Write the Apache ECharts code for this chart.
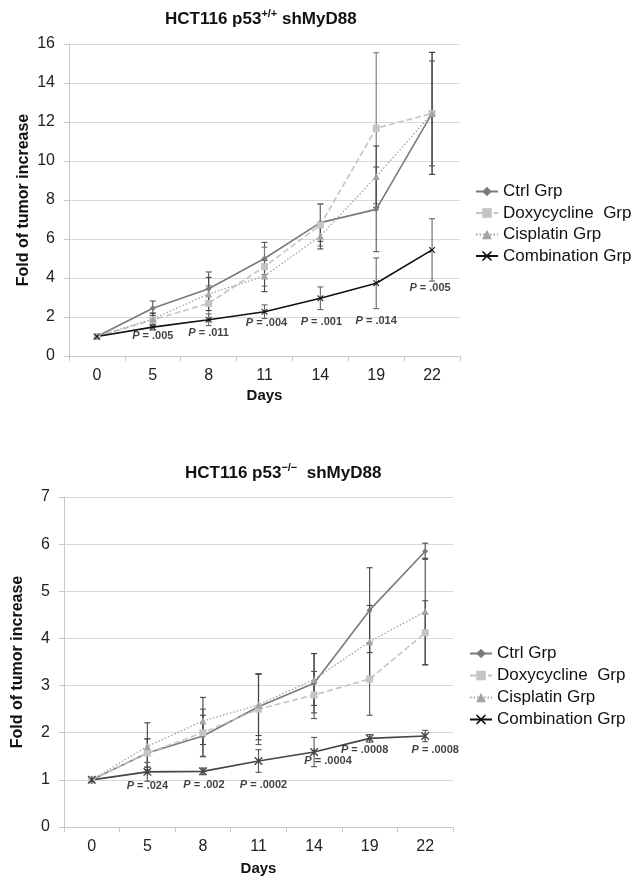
<!DOCTYPE html>
<html><head><meta charset="utf-8">
<script src="https://cdn.jsdelivr.net/npm/echarts@6/dist/echarts.min.js"></script>
<style>html,body{margin:0;padding:0;background:#fff}#c{width:634px;height:878px}</style>
</head><body><div id="c"></div>
<script>
// ---------- data ----------
const days = ['0', '5', '8', '11', '14', '19', '22'];
const seriesNames = ['Ctrl Grp', 'Doxycycline  Grp', 'Cisplatin Grp', 'Combination Grp'];

// top chart: HCT116 p53+/+ shMyD88
const topCtrl = [1, 2.45, 3.45, 5.0, 6.84, 7.52, 12.44];
const topDoxy = [1, 1.85, 2.7, 4.58, 6.72, 11.68, 12.44];
const topCis  = [1, 1.9, 3.18, 4.1, 6.15, 9.2, 12.44];
const topComb = [1, 1.48, 1.86, 2.27, 2.96, 3.73, 5.44];
const topCtrlErr = [0, 0.37, 0.86, 0.83, 0.96, 2.17, 2.69];
const topDoxyErr = [0, 0.35, 0.9, 1.0, 1.08, 3.87, 3.13];
const topCisErr  = [0, 0.3, 0.85, 0.8, 0.66, 1.57, 3.13];
const topCombErr = [0, 0.15, 0.3, 0.35, 0.58, 1.3, 1.6];
const topP = ['.005', '.011', '.004', '.001', '.014', '.005'];
const topPY = [1.03, 1.18, 1.69, 1.74, 1.80, 3.49];

// bottom chart: HCT116 p53-/- shMyD88
const botCtrl = [1, 1.57, 1.93, 2.55, 3.05, 4.6, 5.85];
const botDoxy = [1, 1.57, 2.0, 2.5, 2.8, 3.14, 4.12];
const botCis  = [1, 1.71, 2.25, 2.59, 3.13, 3.93, 4.57];
const botComb = [1, 1.17, 1.18, 1.40, 1.59, 1.88, 1.93];
const botCtrlErr = [0, 0.3, 0.44, 0.7, 0.63, 0.9, 0.17];
const botDoxyErr = [0, 0.3, 0.5, 0.75, 0.5, 0.77, 0.68];
const botCisErr  = [0, 0.5, 0.5, 0.65, 0.55, 0.77, 1.13];
const botCombErr = [0, 0.2, 0.07, 0.24, 0.31, 0.08, 0.12];
const botP = ['.024', '.002', '.0002', '.0004', '.0008', '.0008'];
const botPY = [0.87, 0.90, 0.89, 1.40, 1.64, 1.64];

// ---------- styling ----------
const topPOffsetX = [0, 0, 2, 1, 0, -2];
const botPOffsetX = [0, 1, 5, 14, -5, 10];
const X_PATH = 'path://M0,0L1.2,0L5,3.8L8.8,0L10,0L10,1.2L6.2,5L10,8.8L10,10L8.8,10L5,6.2L1.2,10L0,10L0,8.8L3.8,5L0,1.2Z';
const STAR_PATH = 'path://M0,0L1.2,0L5,3.8L8.8,0L10,0L10,1.2L6.2,5L10,8.8L10,10L8.8,10L5,6.2L1.2,10L0,10L0,8.8L3.8,5L0,1.2Z M4.4,0L5.6,0L5.6,10L4.4,10Z';

const styles = [
  {color: '#7a7a7a', type: 'solid', width: 1.6, symbol: 'diamond', size: 6},
  {color: '#c4c4c4', type: [6, 3], width: 1.6, symbol: 'rect', size: 7},
  {color: '#a3a3a3', type: [1.5, 2], width: 1.3, symbol: 'triangle', size: 7},
];
const combTop = {color: '#111111', type: 'solid', width: 1.6, symbol: X_PATH, size: 6};
const combBot = {color: '#454545', type: 'solid', width: 1.6, symbol: STAR_PATH, size: 8};

function lineSeries(name, vals, st, idx) {
  return {
    name, type: 'line', xAxisIndex: idx, yAxisIndex: idx, data: vals,
    symbol: st.symbol, symbolSize: st.size, z: 3,
    lineStyle: {color: st.color, type: st.type, width: st.width},
    itemStyle: {color: st.color, borderWidth: 0},
    emphasis: {disabled: true}, animation: false
  };
}
function errSeries(vals, errs, idx, color) {
  const data = [];
  vals.forEach((v, i) => { if (errs[i] > 0) data.push([i, v - errs[i], v + errs[i]]); });
  return {
    type: 'custom', xAxisIndex: idx, yAxisIndex: idx, silent: true, z: 2, animation: false,
    data, encode: {x: 0, y: [1, 2]},
    renderItem: (params, api) => {
      const lo = api.coord([api.value(0), api.value(1)]);
      const hi = api.coord([api.value(0), api.value(2)]);
      const w = 3, s = {stroke: color, lineWidth: 1.1};
      return {type: 'group', children: [
        {type: 'line', shape: {x1: hi[0], y1: hi[1], x2: lo[0], y2: lo[1]}, style: s},
        {type: 'line', shape: {x1: hi[0] - w, y1: hi[1], x2: hi[0] + w, y2: hi[1]}, style: s},
        {type: 'line', shape: {x1: lo[0] - w, y1: lo[1], x2: lo[0] + w, y2: lo[1]}, style: s}
      ]};
    }
  };
}
function pSeries(ps, ys, offs, idx) {
  return {
    type: 'scatter', xAxisIndex: idx, yAxisIndex: idx, silent: true, symbolSize: 0, z: 5,
    animation: false,
    data: ps.map((p, i) => ({
      value: [i + 1, ys[i]],
      label: {show: true, position: 'inside', offset: [offs[i], 0],
        formatter: '{i|P}{b| = ' + p + '}'}
    })),
    label: {show: true, rich: {
      i: {fontFamily: 'Liberation Sans', fontSize: 11, fontWeight: 'bold', fontStyle: 'italic', color: '#111'},
      b: {fontFamily: 'Liberation Sans', fontSize: 11, fontWeight: 'bold', color: '#111'}
    }}
  };
}

const axisFont = {fontFamily: 'Liberation Sans', fontSize: 16, color: '#222'};
function xAx(idx, gap) {
  return {
    type: 'category', gridIndex: idx, data: days, boundaryGap: true,
    name: 'Days', nameLocation: 'middle', nameGap: gap, nameMoveOverlap: false,
    nameTextStyle: {fontFamily: 'Liberation Sans', fontSize: 15, fontWeight: 'bold', color: '#111'},
    axisLine: {lineStyle: {color: '#c8c8c8', width: 1}},
    axisTick: {show: true, length: 5, lineStyle: {color: '#c8c8c8'}},
    axisLabel: Object.assign({margin: 12}, axisFont),
    splitLine: {show: false}
  };
}
function yAx(idx, max, interval, gap) {
  return {
    type: 'value', gridIndex: idx, min: 0, max: max, interval: interval,
    name: 'Fold of tumor increase', nameLocation: 'middle', nameGap: gap, nameRotate: 90,
    nameMoveOverlap: false,
    nameTextStyle: {fontFamily: 'Liberation Sans', fontSize: 16, fontWeight: 'bold', color: '#111'},
    axisLine: {show: true, lineStyle: {color: '#c8c8c8', width: 1}},
    axisTick: {show: true, length: 5, lineStyle: {color: '#c8c8c8'}},
    axisLabel: Object.assign({margin: 14}, axisFont),
    splitLine: {show: true, lineStyle: {color: '#d9d9d9', width: 1}}
  };
}
function legend(left, top, gap) {
  return {
    left, top, orient: 'vertical', itemWidth: 22, itemHeight: 12, itemGap: gap,
    selectedMode: false,
    textStyle: {fontFamily: 'Liberation Sans', fontSize: 17, color: '#111'},
    data: seriesNames
  };
}
const titleRich = {
  a: {fontFamily: 'Liberation Sans', fontSize: 17, fontWeight: 'bold', color: '#111', lineHeight: 22},
  s: {fontFamily: 'Liberation Sans', fontSize: 11, fontWeight: 'bold', color: '#111', verticalAlign: 'top', lineHeight: 22}
};

const chart = echarts.init(document.getElementById('c'), null, {renderer: 'canvas'});
const series = [
  errSeries(topCtrl, topCtrlErr, 0, '#555'),
  errSeries(topDoxy, topDoxyErr, 0, '#7a7a7a'),
  errSeries(topCis, topCisErr, 0, '#444'),
  errSeries(topComb, topCombErr, 0, '#666'),
  lineSeries(seriesNames[0], topCtrl, styles[0], 0),
  lineSeries(seriesNames[1], topDoxy, styles[1], 0),
  lineSeries(seriesNames[2], topCis, styles[2], 0),
  lineSeries(seriesNames[3], topComb, combTop, 0),
  pSeries(topP, topPY, topPOffsetX, 0),
  errSeries(botCtrl, botCtrlErr, 1, '#444'),
  errSeries(botDoxy, botDoxyErr, 1, '#555'),
  errSeries(botCis, botCisErr, 1, '#444'),
  errSeries(botComb, botCombErr, 1, '#555'),
  lineSeries(seriesNames[0], botCtrl, styles[0], 1),
  lineSeries(seriesNames[1], botDoxy, styles[1], 1),
  lineSeries(seriesNames[2], botCis, styles[2], 1),
  lineSeries(seriesNames[3], botComb, combBot, 1),
  pSeries(botP, botPY, botPOffsetX, 1)
];
chart.setOption({
  animation: false,
  backgroundColor: '#fff',
  title: [
    {text: '{a|HCT116 p53}{s|+/+}{a| shMyD88}', left: 160, top: 3, textStyle: {rich: titleRich}},
    {text: '{a|HCT116 p53}{s|\u2212/\u2212}{a|  shMyD88}', left: 180, top: 457, textStyle: {rich: titleRich}}
  ],
  grid: [
    {left: 69, width: 391, top: 44, height: 312},
    {left: 64, width: 389, top: 497, height: 330}
  ],
  xAxis: [xAx(0, 32), xAx(1, 34)],
  yAxis: [yAx(0, 16, 2, 37), yAx(1, 7, 1, 38)],
  legend: [legend(470, 178, 4.5), legend(464, 640, 5)],
  series
});
</script></body></html>
